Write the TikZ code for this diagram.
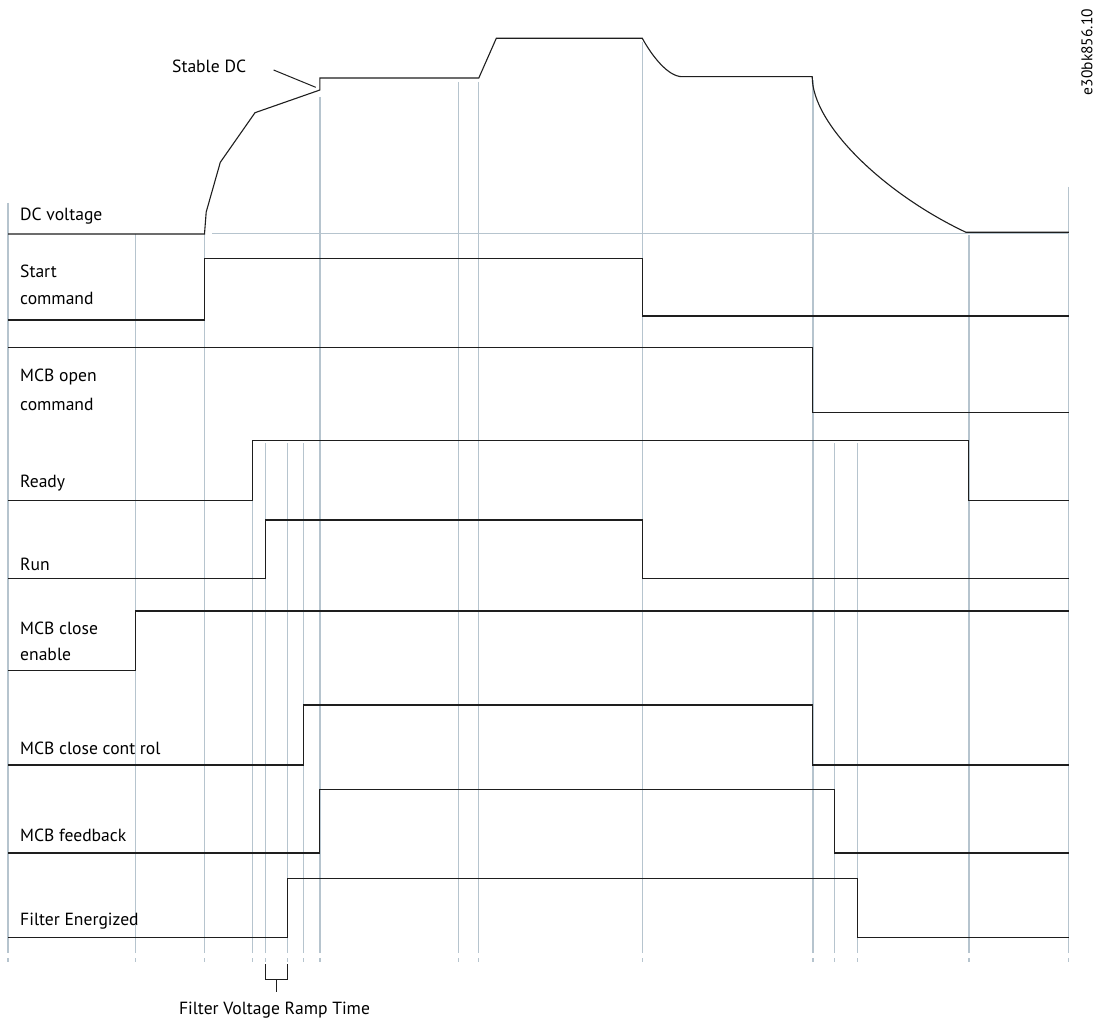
\documentclass[tikz,border=0pt]{standalone}
\usepackage{fontspec}
\setmainfont{PT Sans}
\begin{document}
\begin{tikzpicture}[x=1pt,y=-1pt,
  guide/.style={draw={rgb,255:red,182;green,196;blue,206},line width=1.2pt},
  sig/.style={draw={rgb,255:red,30;green,30;blue,30},line width=1.1pt,line join=miter},
  lbl/.style={anchor=base west,inner sep=0pt,font=\fontsize{17.6}{20}\selectfont},
  wm/.style={inner sep=0pt,font=\fontsize{15.5}{18}\selectfont,rotate=90}]
\useasboundingbox (0,0) rectangle (1096,1022);
\fill[white] (0,0) rectangle (1096,1022);

% guide lines
\foreach \x/\t in {8/203,135.7/234,204.5/234,252.5/441,265.5/443,287.6/443,303.7/443,319.9/97,458.8/82,478.8/82,642.3/42,812.9/80,834.8/443,857.5/443,968.9/235,1068.8/187}{
  \draw[guide] (\x,\t) -- (\x,953);
  \draw[guide] (\x,958) -- (\x,962);
}
\draw[guide] (212,233.3) -- (1068.8,233.3);

% DC voltage
\draw[sig] (8,234) -- (204.5,234) -- (206.2,212) -- (220.3,162.3) -- (255,112.7)
  -- (319.9,90) -- (319.9,78) -- (478.8,78) -- (496.3,38.3) -- (642.3,38.3)
  .. controls (652,56) and (668,76.7) .. (682.3,76.7) -- (812.2,76.7)
  .. controls (812.2,125) and (885,194.2) .. (966,232.3) -- (1068.8,232.3);

% Start command
\draw[sig] (8,320) -- (204.5,320) -- (204.5,258.7) -- (642.3,258.7) -- (642.3,316) -- (1068.8,316);
% MCB open command
\draw[sig] (8,347.5) -- (812.5,347.5) -- (812.5,412.7) -- (1068.8,412.7);
% Ready
\draw[sig] (8,500.3) -- (252.5,500.3) -- (252.5,440.7) -- (968.9,440.7) -- (968.9,500.3) -- (1068.8,500.3);
% Run
\draw[sig] (8,578.3) -- (265.5,578.3) -- (265.5,520) -- (642.3,520) -- (642.3,578.5) -- (1068.8,578.5);
% MCB close enable
\draw[sig] (8,670.7) -- (135.7,670.7) -- (135.7,611) -- (1068.8,611);
% MCB close control
\draw[sig] (8,765) -- (303.7,765) -- (303.7,705) -- (812.9,705) -- (812.9,765) -- (1068.8,765);
% MCB feedback
\draw[sig] (8,853) -- (319.9,853) -- (319.9,789.3) -- (834.8,789.3) -- (834.8,853) -- (1068.8,853);
% Filter energized
\draw[sig] (8,937.3) -- (287.6,937.3) -- (287.6,878.3) -- (857.5,878.3) -- (857.5,937.3) -- (1068.8,937.3);

% labels
\node[lbl] (stabledc) at (172,72.7) {Stable DC};
\coordinate (sdcA) at (273.6,70);
\coordinate (sdcB) at (315.7,87.3);
\draw[sig,line width=1pt] (sdcA) -- (sdcB);
\node[lbl] (dcv) at (20,221) {DC voltage};
\node[lbl] (start1) at (20,277.7) {Start};
\node[lbl] (start2) at (20,304) {command};
\node[lbl] (open1) at (20,381.5) {MCB open};
\node[lbl] (open2) at (20,410) {command};
\node[lbl] (ready) at (20,487.7) {Ready};
\node[lbl] (run) at (20,570) {Run};
\node[lbl] (enable1) at (20,634.3) {MCB close};
\node[lbl] (enable2) at (20,660) {enable};
\node[lbl] (control) at (20,754) {MCB close cont rol};
\node[lbl] (feedback) at (20,841.7) {MCB feedback};
\node[lbl] (filter) at (20,925) {Filter Energized};

% bracket
\coordinate (brL) at (265.5,964);
\coordinate (brR) at (287.6,964);
\coordinate (brM) at (276.5,979.3);
\coordinate (brS) at (276.5,992);
\draw[sig,line width=1pt] (brL) -- (brL |- brM) -- (brR |- brM) -- (brR);
\draw[sig,line width=1pt] (brM) -- (brS);
\node[lbl,anchor=base] (ramp) at (274.5,1014.5) {Filter Voltage Ramp Time};

\node[wm] (code) at (1087,52) {e30bk856.10};
\end{tikzpicture}
\end{document}
